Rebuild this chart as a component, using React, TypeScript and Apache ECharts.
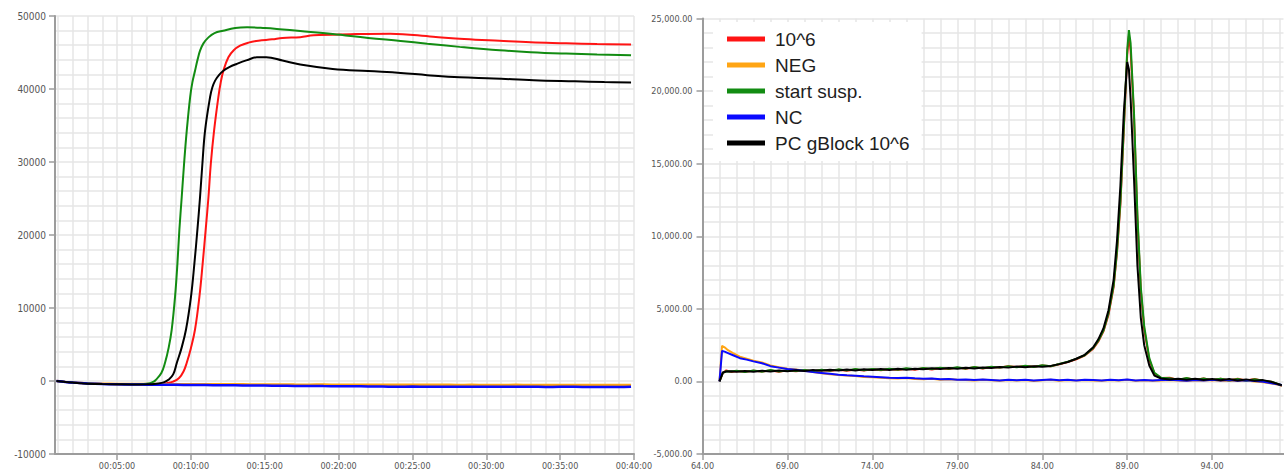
import { useEffect, useRef } from "react";
import * as echarts from "echarts";

// ---- series identity (shared by both panels) ----
const seriesNames = ["10^6", "NEG", "start susp.", "NC", "PC gBlock 10^6"];
const seriesColors = ["#ff1414", "#ffa514", "#128c12", "#0a0aff", "#000000"];

// ---- amplification panel (time in minutes, fluorescence) ----
const ampTimeTicks = [5, 10, 15, 20, 25, 30, 35, 40];

const ampTime10e6 = [0.9, 1.5, 2, 2.5, 3, 4, 5, 6, 7, 7.8, 8.37, 8.8, 9.2, 9.5, 9.72, 10, 10.28, 10.58, 10.8, 11.0, 11.19, 11.35, 11.57, 11.86, 12.02, 12.2, 12.54, 12.9, 13.33, 13.9, 14.57, 15.5, 16.2, 17.4, 18.3, 20.8, 23.5, 26.4, 28.5, 30.9, 33, 35.4, 37.5, 39.8];
const amp10e6 = [0, -120, -200, -280, -340, -400, -430, -450, -460, -420, -300, -80, 400, 1300, 2500, 4500, 7050, 11600, 16150, 20700, 25200, 29800, 34300, 38900, 40900, 42500, 44340, 45300, 45930, 46350, 46620, 46800, 47000, 47100, 47350, 47500, 47580, 47160, 46850, 46600, 46400, 46270, 46150, 46080];

const ampTimeNeg = [0.9, 1.5, 2, 3, 4, 5, 6, 7, 8, 9, 10, 11, 12, 13, 14, 15, 16, 17, 18, 19, 20, 21, 22, 23, 24, 25, 26, 27, 28, 29, 30, 31, 32, 33, 34, 35, 36, 37, 38, 39, 39.8];
const ampNeg = [0, -120, -200, -320, -380, -400, -410, -420, -430, -440, -430, -450, -460, -450, -470, -480, -470, -490, -500, -490, -510, -500, -520, -510, -530, -520, -530, -510, -540, -530, -550, -540, -530, -550, -540, -560, -550, -540, -560, -550, -560];

const ampTimeStart = [0.9, 1.5, 2, 2.5, 3, 4, 5, 6, 6.8, 7.24, 7.45, 7.6, 8, 8.25, 8.5, 8.7, 8.93, 9.09, 9.22, 9.38, 9.54, 9.72, 9.95, 10.1, 10.28, 10.45, 10.62, 10.85, 11.19, 11.6, 12.18, 13, 13.8, 15, 16, 17.4, 19.6, 22, 24.2, 26, 28.2, 30.9, 33, 35.4, 37.5, 39.8];
const ampStart = [0, -120, -200, -280, -340, -400, -430, -450, -420, -300, -120, 100, 1100, 2500, 4600, 7000, 11600, 16150, 20700, 25200, 29800, 34300, 38900, 40900, 42500, 44000, 45250, 46250, 47070, 47650, 47980, 48350, 48450, 48350, 48200, 47950, 47540, 47000, 46580, 46200, 45770, 45310, 45050, 44850, 44720, 44630];

const ampTimeNc = [0.9, 1.5, 2, 3, 4, 5, 6, 7, 8, 9, 10, 11, 12, 13, 14, 15, 16, 17, 18, 19, 20, 21, 22, 23, 24, 25, 26, 27, 28, 29, 30, 31, 32, 33, 34, 35, 36, 37, 38, 39, 39.8];
const ampNc = [0, -130, -220, -340, -420, -460, -480, -500, -520, -530, -550, -560, -580, -590, -610, -620, -650, -670, -680, -700, -710, -730, -740, -760, -790, -770, -780, -790, -780, -800, -790, -780, -800, -790, -810, -800, -790, -820, -810, -830, -800];

const ampTimePc = [0.9, 1.5, 2, 2.5, 3, 4, 5, 6, 7, 7.8, 8.2, 8.5, 8.8, 9.05, 9.35, 9.67, 10.01, 10.24, 10.44, 10.62, 10.78, 10.96, 11.3, 11.45, 11.64, 11.9, 12.2, 12.6, 13.1, 13.8, 14.46, 15.1, 16.2, 17.4, 19.6, 22, 24.2, 26, 28.2, 30.5, 33.2, 36, 38, 39.8];
const ampPc = [0, -130, -220, -300, -360, -420, -450, -470, -460, -330, -150, 200, 900, 2500, 4400, 7050, 11600, 16150, 20700, 25200, 29800, 34300, 38900, 40200, 41150, 41900, 42500, 43000, 43430, 43950, 44340, 44350, 43900, 43350, 42750, 42450, 42200, 41900, 41600, 41450, 41200, 41050, 40950, 40890];

// ---- melt panel (temperature in °C, -dF/dT) ----
const meltTempTicks = [64, 69, 74, 79, 84, 89, 94];

const meltTempsPos = [65.0, 65.2, 65.4, 65.7, 66.0, 66.5, 67, 67.5, 68, 68.5, 69, 69.5, 70, 70.5, 71, 71.5, 72, 72.5, 73, 73.5, 74, 74.5, 75, 75.5, 76, 76.5, 77, 77.5, 78, 78.5, 79, 79.5, 80, 80.5, 81, 81.5, 82, 82.5, 83, 83.5, 84, 84.5, 85, 85.5, 86, 86.5, 87, 87.3, 87.6, 87.9, 88.2, 88.4, 88.6, 88.8, 89.0, 89.1, 89.2, 89.4, 89.6, 89.8, 90.0, 90.3, 90.6, 91.0, 91.5, 92, 92.5, 93, 93.5, 94, 94.5, 95, 95.5, 96, 96.5, 97, 97.5, 98.1];
const melt10e6 = [0, 580, 760, 640, 720, 660, 740, 680, 750, 660, 760, 700, 770, 690, 790, 720, 800, 740, 820, 750, 830, 770, 860, 780, 880, 800, 900, 820, 930, 850, 950, 870, 970, 890, 990, 960, 1050, 990, 1070, 1010, 1100, 1050, 1180, 1330, 1530, 1780, 2250, 2750, 3450, 4600, 6500, 8900, 12200, 17300, 22500, 23800, 22800, 18200, 11200, 6300, 3600, 1500, 550, 230, 260, 100, 220, 120, 200, 80, 180, 70, 190, 60, 160, 30, -30, -300];
const meltStart = [0, 600, 700, 680, 740, 650, 760, 670, 780, 680, 770, 720, 790, 700, 810, 730, 830, 760, 850, 770, 860, 790, 880, 800, 900, 830, 930, 850, 950, 870, 970, 880, 990, 910, 1010, 950, 1040, 980, 1080, 1000, 1110, 1040, 1200, 1350, 1550, 1800, 2300, 2800, 3500, 4700, 6600, 9000, 12400, 17500, 22800, 24200, 23300, 18500, 11500, 6500, 3800, 1600, 600, 250, 220, 120, 240, 100, 210, 90, 190, 60, 170, 50, 150, 40, -20, -280];
const meltPc = [0, 620, 680, 700, 660, 720, 670, 740, 690, 750, 700, 770, 720, 790, 730, 800, 750, 820, 760, 830, 780, 850, 790, 870, 810, 880, 830, 900, 850, 920, 870, 940, 890, 960, 920, 990, 950, 1020, 980, 1050, 1010, 1070, 1190, 1340, 1560, 1830, 2350, 2900, 3650, 4900, 7000, 9700, 13500, 18500, 22000, 21500, 19500, 14000, 8000, 4400, 2500, 1100, 400, 200, 130, 190, 110, 180, 90, 160, 80, 170, 60, 140, 50, 90, -40, -260];

const meltTempsNeg = [65.0, 65.15, 65.3, 65.5, 65.8, 66.2, 66.6, 67.0, 67.5, 68.0, 68.5, 69.0, 69.5, 70.0, 70.5, 71.0, 71.5, 72.0, 72.5, 73.0, 73.5, 74.0, 74.5, 75.0, 75.5, 76.0, 76.5, 77.0, 77.5, 78.0, 78.5, 79.0, 79.5, 80.0, 80.5, 81, 81.5, 82, 82.5, 83, 83.5, 84, 84.5, 85, 85.5, 86, 86.5, 87, 87.5, 88, 88.5, 89, 89.5, 90, 90.5, 91, 91.5, 92, 92.5, 93, 93.5, 94, 94.5, 95, 95.5, 96, 96.5, 97, 97.5, 98.1];
const meltNeg = [0, 2450, 2350, 2150, 1950, 1700, 1560, 1420, 1300, 1100, 980, 880, 820, 740, 650, 560, 500, 440, 400, 370, 300, 280, 250, 210, 200, 230, 170, 150, 180, 120, 150, 110, 90, 60, 110, 80, 40, 100, 60, 90, 30, 80, 110, 50, 90, 60, 100, 70, 40, 90, 60, 110, 50, 80, 40, 70, 100, 60, 30, 80, 60, 90, 40, 70, 30, 60, 0, -50, -140, -270];
const meltNc = [0, 2100, 2050, 1950, 1800, 1600, 1500, 1380, 1250, 1050, 950, 850, 800, 720, 640, 580, 520, 460, 420, 390, 350, 320, 290, 250, 230, 260, 210, 180, 200, 150, 170, 120, 140, 90, 130, 100, 70, 120, 80, 110, 60, 100, 130, 80, 110, 70, 120, 90, 60, 110, 80, 130, 70, 100, 60, 90, 120, 80, 50, 100, 70, 110, 60, 90, 40, 80, 20, -30, -120, -250];

const axisGray = "#9c9c9c";
const gridGray = "#e6e6e6";
const labelColor = "#555555";
const labelFont = "'Liberation Sans Narrow', 'DejaVu Sans Condensed', 'Liberation Sans', sans-serif";

const pairs = (xs: number[], ys: number[]) => xs.map((x, i) => [x, ys[i]]);

const pad2 = (n: number) => String(n).padStart(2, "0");
const fmtClock = (minutes: number) => {
  const total = Math.round(minutes * 60);
  const h = Math.floor(total / 3600);
  const m = Math.floor((total % 3600) / 60);
  const s = total % 60;
  return `${pad2(h)}:${pad2(m)}:${pad2(s)}`;
};
const fmtThousands = (v: number) =>
  v.toLocaleString("en-US", { minimumFractionDigits: 2, maximumFractionDigits: 2 });

export default function App() {
  const ref = useRef<HTMLDivElement>(null);

  useEffect(() => {
    document.body.style.margin = "0";
    const chart = echarts.init(ref.current!, null, { renderer: "svg" });

    const minuteGrid = Array.from({ length: 40 }, (_, i) => i + 1);
    const degreeGrid = Array.from({ length: 35 }, (_, i) => 64 + i);

    const gridLine = { show: true, lineStyle: { color: gridGray, width: 1.5 } };
    const axisLine = { show: true, onZero: false, lineStyle: { color: axisGray, width: 2 } };
    const axisTick = (values?: number[]) => ({
      show: true,
      length: 6,
      lineStyle: { color: axisGray, width: 1.5 },
      ...(values ? { customValues: values } : {}),
    });
    const label = { color: labelColor, fontFamily: labelFont };

    const helperX = (gridIndex: number, min: number, max: number, values: number[]) => ({
      type: "value",
      gridIndex,
      min,
      max,
      position: "bottom",
      axisLine: { show: false },
      axisLabel: { show: false },
      axisTick: { show: false, customValues: values },
      splitLine: gridLine,
    });

    const line = (name: string, data: number[][], xAxisIndex: number, yAxisIndex: number, smooth: number | boolean, width: number) => {
      const idx = seriesNames.indexOf(name);
      return {
        type: "line",
        name,
        data,
        xAxisIndex,
        yAxisIndex,
        showSymbol: false,
        symbol: "none",
        smooth,
        color: seriesColors[idx],
        lineStyle: { color: seriesColors[idx], width },
        z: 2 + idx,
      };
    };

    const option = {
      animation: false,
      backgroundColor: "#ffffff",
      grid: [
        { left: 55, top: 16, width: 579, height: 439 },
        { left: 702.5, top: 18.5, width: 581, height: 436 },
      ],
      legend: {
        orient: "vertical",
        left: 713,
        top: 22,
        padding: [7, 12, 8, 14],
        itemGap: 6,
        itemWidth: 38,
        itemHeight: 5,
        icon: "rect",
        backgroundColor: "#ffffff",
        z: 20,
        textStyle: {
          fontFamily: "'Liberation Sans', Arial, sans-serif",
          fontSize: 19,
          lineHeight: 20,
          color: "#1e1e1e",
          padding: [0, 0, 0, 5],
        },
        data: seriesNames,
      },
      xAxis: [
        {
          type: "value",
          gridIndex: 0,
          min: 0.8,
          max: 40,
          position: "bottom",
          axisLine,
          axisTick: axisTick(ampTimeTicks),
          axisLabel: { ...label, fontSize: 9, margin: 7, customValues: ampTimeTicks, formatter: fmtClock },
          splitLine: { show: false },
        },
        helperX(0, 0.8, 40, minuteGrid),
        {
          type: "value",
          gridIndex: 1,
          min: 64,
          max: 98.2,
          position: "bottom",
          axisLine,
          axisTick: axisTick(meltTempTicks),
          axisLabel: {
            ...label,
            fontSize: 9,
            margin: 7,
            customValues: meltTempTicks,
            formatter: (v: number) => v.toFixed(2),
          },
          splitLine: { show: false },
        },
        helperX(1, 64, 98.2, degreeGrid),
      ],
      yAxis: [
        {
          type: "value",
          gridIndex: 0,
          min: -10000,
          max: 50000,
          interval: 10000,
          axisLine,
          axisTick: axisTick(),
          axisLabel: { ...label, fontSize: 10, margin: 9, formatter: (v: number) => String(v) },
          splitLine: gridLine,
          minorTick: { show: false, splitNumber: 5 },
          minorSplitLine: gridLine,
        },
        {
          type: "value",
          gridIndex: 1,
          min: -5000,
          max: 25000,
          interval: 5000,
          axisLine,
          axisTick: axisTick(),
          axisLabel: { ...label, fontSize: 9, margin: 10, formatter: fmtThousands },
          splitLine: gridLine,
          minorTick: { show: false, splitNumber: 5 },
          minorSplitLine: gridLine,
        },
      ],
      series: [
        line("10^6", pairs(ampTime10e6, amp10e6), 0, 0, 0.4, 2),
        line("NEG", pairs(ampTimeNeg, ampNeg), 0, 0, 0.3, 2.5),
        line("start susp.", pairs(ampTimeStart, ampStart), 0, 0, 0.4, 2),
        line("NC", pairs(ampTimeNc, ampNc), 0, 0, 0.3, 2.5),
        line("PC gBlock 10^6", pairs(ampTimePc, ampPc), 0, 0, 0.4, 2),
        line("10^6", pairs(meltTempsPos, melt10e6), 2, 1, false, 2),
        line("NEG", pairs(meltTempsNeg, meltNeg), 2, 1, false, 2),
        line("start susp.", pairs(meltTempsPos, meltStart), 2, 1, false, 2),
        line("NC", pairs(meltTempsNeg, meltNc), 2, 1, false, 2),
        line("PC gBlock 10^6", pairs(meltTempsPos, meltPc), 2, 1, false, 2),
      ],
    };

    chart.setOption(option as any);
    return () => chart.dispose();
  }, []);

  return <div ref={ref} style={{ width: 1284, height: 470 }} />;
}
